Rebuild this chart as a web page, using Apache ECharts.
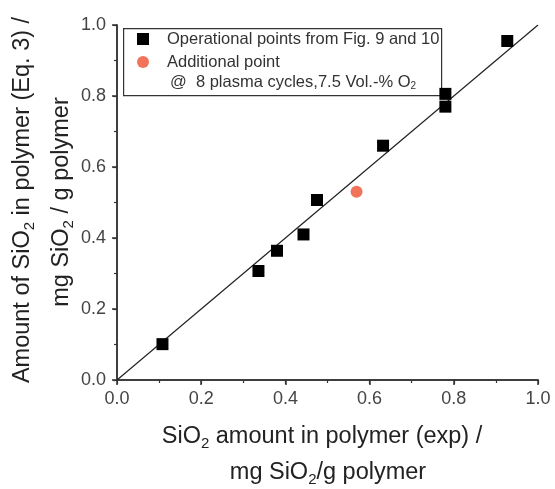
<!DOCTYPE html>
<html>
<head>
<meta charset="utf-8">
<script src="https://cdn.jsdelivr.net/npm/echarts@6/dist/echarts.min.js"></script>
<style>
  html, body { margin: 0; padding: 0; background: #fff; }
  #chart { width: 555px; height: 489px; }
</style>
</head>
<body>
<div id="chart"></div>
<script>
// operational points (exp vs Eq. 3)
const opX = [0.108, 0.336, 0.380, 0.443, 0.475, 0.632, 0.780, 0.780, 0.927];
const opY = [0.101, 0.307, 0.364, 0.410, 0.507, 0.660, 0.770, 0.806, 0.955];
// additional point @ 8 plasma cycles
const addX = [0.569];
const addY = [0.530];
// y = x reference line
const diag = [0, 1];

const font = '"Liberation Sans", Arial, sans-serif';
const axisCol = '#333';

// rich styles for titles with subscripts
const titleRich = {
  a: { fontSize: 23.5, fontFamily: font, fill: '#222', lineHeight: 28 },
  s: { fontSize: 15, fontFamily: font, fill: '#222', lineHeight: 28, padding: [13, 0, 0, 0] }
};
const legRich = {
  a: { fontSize: 16.5, fontFamily: font, fill: '#333', lineHeight: 20 },
  s: { fontSize: 10, fontFamily: font, fill: '#333', lineHeight: 20, padding: [9, 0, 0, 0] }
};

function title(text, x, y, rot) {
  return {
    type: 'text', x: x, y: y, rotation: rot || 0, z: 10,
    style: { text: text, rich: titleRich, align: 'center', verticalAlign: 'middle' }
  };
}

const chart = echarts.init(document.getElementById('chart'));

const baseAxis = {
  min: 0, max: 1, interval: 0.2,
  axisLine: { lineStyle: { color: axisCol, width: 1.5 } },
  axisTick: { length: 5, lineStyle: { color: axisCol, width: 1.5 } },
  minorTick: { show: true, splitNumber: 2, length: 3, lineStyle: { color: axisCol, width: 1.2 } },
  splitLine: { show: false },
  axisLabel: { fontSize: 18, fontFamily: font, color: '#444', formatter: v => v.toFixed(1) }
};
const mirror = {
  axisTick: { inside: true, length: 4, lineStyle: { color: axisCol, width: 1.2 } },
  minorTick: { show: false },
  axisLabel: { show: false }
};

chart.setOption({
  animation: false,
  grid: { left: 117, right: 17, top: 25, bottom: 109, containLabel: false, outerBoundsMode: 'none' },
  xAxis: [
    Object.assign({}, baseAxis, {
      type: 'value', position: 'bottom',
      axisLabel: Object.assign({}, baseAxis.axisLabel, { margin: 10 })
    }),
    Object.assign({}, baseAxis, mirror, { type: 'value', position: 'top' })
  ],
  yAxis: [
    Object.assign({}, baseAxis, {
      type: 'value', position: 'left',
      axisLabel: Object.assign({}, baseAxis.axisLabel, { margin: 11 })
    }),
    Object.assign({}, baseAxis, mirror, { type: 'value', position: 'right' })
  ],
  legend: {
    orient: 'vertical', left: 137, top: 29, itemGap: 3, padding: 0,
    itemWidth: 12, itemHeight: 12,
    textStyle: { fontSize: 16.5, fontFamily: font, color: '#333', lineHeight: 20, padding: [0, 0, 0, 13] },
    data: ['Operational points from Fig. 9 and 10', 'Additional point']
  },
  graphic: [
    {
      type: 'rect', left: 123, top: 28, z: 0,
      shape: { width: 318, height: 67 },
      style: { fill: '#fff', stroke: '#333', lineWidth: 1.2 }
    },
    {
      type: 'text', x: 170, y: 82, z: 10,
      style: { text: '{a|@  8 plasma cycles,7.5 Vol.-% O}{s|2}', rich: legRich, verticalAlign: 'middle' }
    },
    title('{a|SiO}{s|2}{a| amount in polymer (exp) /}', 322, 437),
    title('{a|mg SiO}{s|2}{a|/g polymer}', 328, 473),
    title('{a|Amount of SiO}{s|2}{a| in polymer (Eq. 3) /}', 23, 200, Math.PI / 2),
    title('{a|mg SiO}{s|2}{a| / g polymer}', 62, 202, Math.PI / 2)
  ],
  series: [
    {
      type: 'line', data: diag.map(v => [v, v]), showSymbol: false, silent: true,
      lineStyle: { color: '#222', width: 1.2 }, z: 1
    },
    {
      name: 'Operational points from Fig. 9 and 10', type: 'scatter',
      symbol: 'rect', symbolSize: 12,
      itemStyle: { color: '#000', opacity: 1 },
      data: opX.map((x, i) => [x, opY[i]]), z: 3
    },
    {
      name: 'Additional point', type: 'scatter',
      symbol: 'circle', symbolSize: 12,
      itemStyle: { color: '#f0735a', opacity: 1 },
      data: addX.map((x, i) => [x, addY[i]]), z: 3
    }
  ]
});
</script>
</body>
</html>
